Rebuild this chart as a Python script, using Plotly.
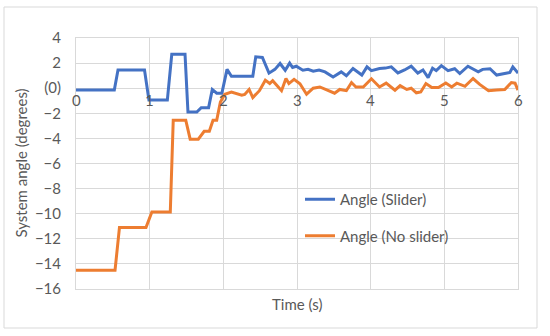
import plotly.graph_objects as go

slider_t = [0, 0.52, 0.57, 0.93, 0.99, 1.24, 1.30, 1.48, 1.52, 1.64, 1.70, 1.80, 1.85, 1.91, 1.98, 2.05, 2.11, 2.40, 2.44, 2.53, 2.62, 2.70, 2.77, 2.84, 2.90, 2.94, 2.99, 3.08, 3.15, 3.22, 3.30, 3.38, 3.49, 3.60, 3.67, 3.76, 3.88, 3.95, 4.01, 4.12, 4.20, 4.28, 4.37, 4.46, 4.55, 4.64, 4.71, 4.78, 4.84, 4.89, 4.96, 5.05, 5.14, 5.21, 5.32, 5.39, 5.46, 5.52, 5.62, 5.71, 5.82, 5.89, 5.93, 6.0]
slider_v = [-0.15, -0.15, 1.45, 1.45, -0.95, -0.95, 2.7, 2.7, -1.9, -1.9, -1.55, -1.55, -0.1, -0.4, -0.4, 1.5, 0.95, 0.95, 2.5, 2.45, 1.2, 1.5, 1.97, 1.43, 2.0, 1.65, 1.75, 1.43, 1.5, 1.35, 1.45, 1.3, 0.9, 1.3, 1.0, 1.57, 1.05, 1.7, 1.4, 1.57, 1.6, 1.7, 1.22, 1.45, 1.75, 1.2, 1.45, 0.85, 1.6, 1.4, 1.8, 1.4, 1.55, 1.17, 1.75, 1.5, 1.3, 1.5, 1.55, 1.05, 1.2, 1.25, 1.7, 1.2]

noslider_t = [0, 0.53, 0.59, 0.95, 1.03, 1.28, 1.32, 1.49, 1.55, 1.66, 1.74, 1.81, 1.86, 1.91, 1.96, 2.02, 2.11, 2.25, 2.29, 2.35, 2.40, 2.49, 2.57, 2.63, 2.67, 2.79, 2.85, 2.89, 2.96, 3.04, 3.13, 3.22, 3.31, 3.42, 3.51, 3.58, 3.67, 3.74, 3.80, 3.90, 4.01, 4.12, 4.21, 4.33, 4.40, 4.49, 4.55, 4.62, 4.68, 4.75, 4.83, 4.92, 5.02, 5.10, 5.17, 5.28, 5.39, 5.48, 5.60, 5.71, 5.82, 5.91, 5.96, 6.0]
noslider_v = [-14.5, -14.5, -11.1, -11.1, -9.86, -9.86, -2.55, -2.55, -4.06, -4.06, -3.43, -3.43, -2.55, -2.55, -1.1, -0.48, -0.3, -0.56, -0.5, -0.1, -0.75, -0.2, 0.64, 0.37, 0.6, -0.2, 0.77, 0.37, 0.7, 0.35, -0.48, 0.0, 0.1, -0.2, -0.4, -0.1, -0.2, 0.45, 0.1, 0.1, 0.75, 0.1, 0.4, -0.16, 0.2, -0.1, 0.0, -0.37, -0.3, 0.37, 0.05, 0.05, 0.42, 0.1, 0.4, 0.15, 0.77, 0.3, -0.2, -0.15, -0.1, 0.45, 0.4, -0.15]

y_ticks = [4, 2, 0, -2, -4, -6, -8, -10, -12, -14, -16]
y_ticktext = ["4", "2", "(0)", "\u22122", "\u22124", "\u22126", "\u22128", "\u221210", "\u221212", "\u221214", "\u221216"]
x_ticks = [0, 1, 2, 3, 4, 5, 6]

FONT = "Lato, 'Open Sans', sans-serif"
TXT = "#595959"
GRID = "#D9D9D9"

fig = go.Figure()
fig.add_trace(go.Scatter(x=slider_t, y=slider_v, mode="lines", name="Angle (Slider)",
                         legendgroup="a", line=dict(color="#4472C4", width=3)))
fig.add_trace(go.Scatter(x=noslider_t, y=noslider_v, mode="lines", name="Angle (No slider)",
                         legendgroup="b", line=dict(color="#ED7D31", width=3)))

for t in x_ticks:
    fig.add_annotation(x=t, y=0, xref="x", yref="y", text=str(t), showarrow=False,
                       yanchor="top", yshift=-1, font=dict(family=FONT, size=15, color=TXT))

fig.add_annotation(x=(20 - 76) / 442, y=0.5, xref="paper", yref="paper", text="System angle (degrees)",
                   textangle=-90, showarrow=False, xanchor="center", yanchor="middle",
                   font=dict(family=FONT, size=15, color=TXT))
fig.add_annotation(x=0.5, y=(289 - 304) / 251, xref="paper", yref="paper", text="Time (s)",
                   showarrow=False, xanchor="center", yanchor="middle",
                   font=dict(family=FONT, size=15, color=TXT))

fig.add_shape(type="rect", xref="paper", yref="paper",
              x0=(4 - 76) / 442, x1=(537 - 76) / 442, y0=(289 - 328) / 251, y1=(289 - 7) / 251,
              line=dict(color=GRID, width=1), fillcolor="rgba(0,0,0,0)", layer="above")

fig.update_layout(
    width=550, height=336,
    margin=dict(l=76, r=32, t=38, b=47),
    paper_bgcolor="white", plot_bgcolor="white",
    font=dict(family=FONT, size=15, color=TXT),
    showlegend=True,
    legend=dict(x=(300 - 76) / 442, y=(289 - 183) / 251, xanchor="left", yanchor="top",
                traceorder="grouped", tracegroupgap=14, bgcolor="rgba(0,0,0,0)",
                font=dict(family=FONT, size=15, color=TXT)),
    xaxis=dict(range=[0, 6], tickvals=x_ticks, showticklabels=False, showgrid=True,
               gridcolor=GRID, gridwidth=1, zeroline=False, showline=True, linecolor=GRID,
               mirror=True, ticks=""),
    yaxis=dict(range=[-16, 4], tickvals=y_ticks, ticktext=y_ticktext, showgrid=True,
               gridcolor=GRID, gridwidth=1, zeroline=True, zerolinecolor=GRID, zerolinewidth=1,
               showline=True, linecolor=GRID, mirror=True, ticks="", ticklabelstandoff=11),
)

fig.write_html("out.html", post_script="document.body.style.margin='0';",
               config={"displayModeBar": False})
